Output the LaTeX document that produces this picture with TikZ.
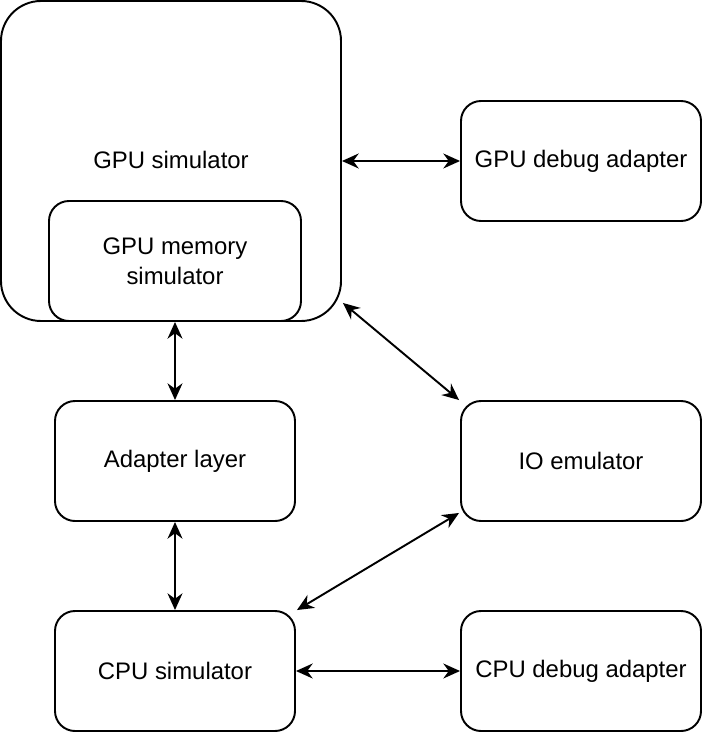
\documentclass[tikz,border=0pt]{standalone}
\usepackage{fontspec}
\setmainfont{Liberation Sans}
\usepackage{tikz}
\usetikzlibrary{arrows.meta}

\begin{document}
\begin{tikzpicture}[
        every node/.style={font=\fontsize{13.6}{17}\selectfont, align=center},
        block/.style={rectangle, draw, line width=1.1pt, rounded corners=0.4cm, minimum width=4.8cm, minimum height=2.4cm, inner sep=0pt},
        link/.style={line width=1.1pt, {Stealth[length=9.5pt,width=8.5pt]}-{Stealth[length=9.5pt,width=8.5pt]}}
    ]
    \useasboundingbox (0,0) rectangle (14.04,-14.64);
    \node[block, rounded corners=0.8cm, minimum width=6.8cm, minimum height=6.4cm] (gpusim) at (3.42,-3.22) {};
    \node at (3.42,-3.2) {GPU simulator};
    \node[block, minimum width=5.04cm] (gpumem) at (3.5,-5.22) {GPU memory\\simulator};
    \node[block] (gpudbg) at (11.62,-3.22) {GPU debug adapter};
    \node[block] (adapter) at (3.5,-9.22) {Adapter layer};
    \node[block] (io) at (11.62,-9.22) {IO emulator};
    \node[block] (cpu) at (3.5,-13.42) {CPU simulator};
    \node[block] (cpudbg) at (11.62,-13.42) {CPU debug adapter};
    % free ends near the rounded corners
    \coordinate (gpucorner) at ([shift={(0.02,0.38)}]gpusim.south east);
    \coordinate (iocorner) at ([shift={(-0.02,0.18)}]io.south west);
    \draw[link] (gpusim.east) -- (gpudbg.west);
    \draw[link] (gpumem.south) -- (adapter.north);
    \draw[link] (gpucorner) -- ([xshift=-0.02cm]io.north west);
    \draw[link] (adapter.south) -- (cpu.north);
    \draw[link] (iocorner) -- ([xshift=0.02cm]cpu.north east);
    \draw[link] (cpu.east) -- (cpudbg.west);
\end{tikzpicture}
\end{document}
